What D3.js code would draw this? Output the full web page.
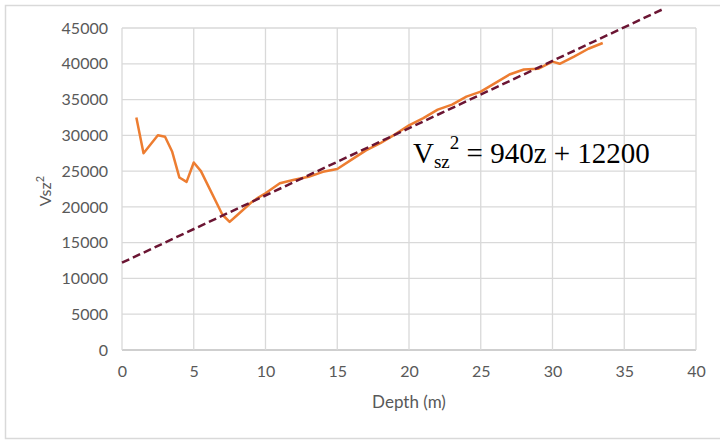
<!DOCTYPE html>
<html><head><meta charset="utf-8">
<script src="https://cdn.jsdelivr.net/npm/d3@7"></script>
<style>body{margin:0;background:#fff}svg{display:block}</style>
</head><body>
<svg id="c" width="720" height="441"></svg>
<script>
const depth = [1,1.5,2.5,3,3.5,4,4.5,5,5.5,7,7.5,8,9,9.5,10,11,12,13,14,15,16,17,18,19,20,21,22,23,24,25,26,27,28,29,30,30.5,31.5,32.5,33.5];
const vsz2 = [32500,27500,30000,29800,27700,24100,23500,26200,25000,18900,17900,18800,20600,21300,21900,23300,23800,24200,24900,25300,26600,27900,28900,30100,31400,32400,33600,34300,35400,36100,37300,38500,39200,39300,40300,40000,41000,42100,42900];
const trendSlope = 940, trendIntercept = 12200;
const trendRange = [0, 37.7];
const xTicks = [0,5,10,15,20,25,30,35,40];
const yTicks = [0,5000,10000,15000,20000,25000,30000,35000,40000,45000];

const svg = d3.select("#c");
const L = 122, R = 696, T = 28, B = 350;
const x = d3.scaleLinear().domain([0,40]).range([L,R]);
const y = d3.scaleLinear().domain([0,45000]).range([B,T]);
const font = "Lato, 'Open Sans', sans-serif";

svg.append("rect").attr("x",5.5).attr("y",5.5).attr("width",740).attr("height",433)
  .attr("fill","#fff").attr("stroke","#d9d9d9").attr("stroke-width",1.5);

// gridlines
svg.append("g").selectAll("line").data(yTicks).join("line")
  .attr("x1",L).attr("x2",R).attr("y1",d=>y(d)).attr("y2",d=>y(d))
  .attr("stroke",d=>d===0?"#bfbfbf":"#d9d9d9").attr("stroke-width",1.3);
svg.append("g").selectAll("line").data(xTicks).join("line")
  .attr("y1",T).attr("y2",B).attr("x1",d=>x(d)).attr("x2",d=>x(d))
  .attr("stroke","#d9d9d9").attr("stroke-width",1.3);

// axes labels via d3 axes
const ax = svg.append("g").attr("transform",`translate(0,${B})`)
  .call(d3.axisBottom(x).tickValues(xTicks).tickSize(0).tickPadding(16).tickFormat(d3.format("d")));
const ay = svg.append("g").attr("transform",`translate(${L},0)`)
  .call(d3.axisLeft(y).tickValues(yTicks).tickSize(0).tickPadding(14).tickFormat(d3.format("d")));
[ax,ay].forEach(g=>{
  g.select(".domain").remove();
  g.selectAll("text").attr("font-family",font).attr("font-size",16).attr("fill","#595959");
});

// axis titles
svg.append("text").attr("x",(L+R)/2).attr("y",408).attr("text-anchor","middle")
  .attr("font-family",font).attr("font-size",17).attr("fill","#595959").text("Depth (m)");
const yt = svg.append("text").attr("transform","translate(51,191) rotate(-90)").attr("text-anchor","middle")
  .attr("font-family",font).attr("font-size",16).attr("fill","#595959");
yt.append("tspan").text("Vsz");
yt.append("tspan").attr("dy",-7).attr("font-size",11).text("2");

// data line
svg.append("path").datum(depth.map((d,i)=>[d,vsz2[i]]))
  .attr("fill","none").attr("stroke","#ED7D31").attr("stroke-width",2.5).attr("stroke-linejoin","round")
  .attr("d",d3.line().x(d=>x(d[0])).y(d=>y(d[1])));

// trend line
svg.append("line")
  .attr("x1",x(trendRange[0])).attr("y1",y(trendSlope*trendRange[0]+trendIntercept))
  .attr("x2",x(trendRange[1])).attr("y2",y(trendSlope*trendRange[1]+trendIntercept))
  .attr("stroke","#6B1533").attr("stroke-width",2.5).attr("stroke-dasharray","8,4");

// equation
const eq = svg.append("text").attr("x",413).attr("y",163).attr("font-family","'Liberation Serif', 'Times New Roman', serif")
  .attr("font-size",29).attr("fill","#000");
eq.append("tspan").text("V");
eq.append("tspan").attr("font-size",19).attr("dy",5).text("sz");
eq.append("tspan").attr("font-size",19).attr("dy",-19).text("2");
eq.append("tspan").attr("dy",14).text(" = 940z + 12200");
</script>
</body></html>
